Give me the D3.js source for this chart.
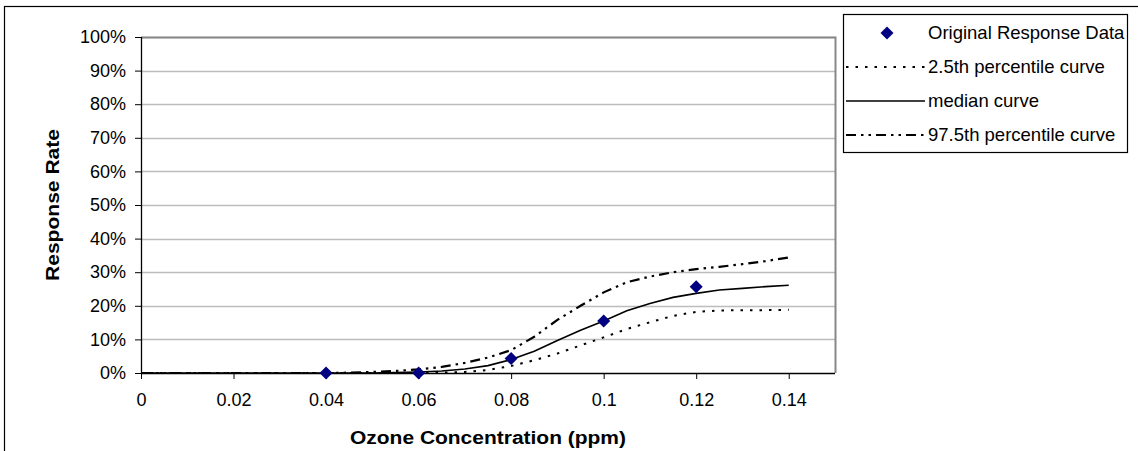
<!DOCTYPE html>
<html><head><meta charset="utf-8">
<script src="https://cdn.jsdelivr.net/npm/d3@7"></script>
<style>body{margin:0;background:#fff;} svg{display:block;} text{font-family:"Liberation Sans",Arial,sans-serif;fill:#000;}</style>
</head><body>
<svg id="chart" width="1138" height="451"></svg>
<script>
const xTicks = [0, 0.02, 0.04, 0.06, 0.08, 0.1, 0.12, 0.14];
const xTickLabels = ["0", "0.02", "0.04", "0.06", "0.08", "0.1", "0.12", "0.14"];
const yTicks = [0, 0.1, 0.2, 0.3, 0.4, 0.5, 0.6, 0.7, 0.8, 0.9, 1.0];
const yTickLabels = ["0%", "10%", "20%", "30%", "40%", "50%", "60%", "70%", "80%", "90%", "100%"];

const obsX = [0.04, 0.06, 0.08, 0.1, 0.12];
const obsY = [0.0, 0.0, 0.043, 0.155, 0.257];

const curveX = [0, 0.005, 0.01, 0.015, 0.02, 0.025, 0.03, 0.035, 0.04, 0.045, 0.05, 0.055, 0.06, 0.065, 0.07, 0.075, 0.08, 0.085, 0.09, 0.095, 0.1, 0.105, 0.11, 0.115, 0.12, 0.125, 0.13, 0.135, 0.14];
const lowerY = [0, 0, 0, 0, 0, 0, 0, 0, 0, 0, 0, 0, 0, 0.001, 0.003, 0.009, 0.021, 0.038, 0.058, 0.082, 0.106, 0.131, 0.151, 0.170, 0.182, 0.186, 0.187, 0.187, 0.188];
const medianY = [0, 0, 0, 0, 0, 0, 0, 0, 0, 0, 0, 0.001, 0.003, 0.006, 0.012, 0.022, 0.040, 0.065, 0.097, 0.127, 0.155, 0.185, 0.207, 0.225, 0.237, 0.247, 0.252, 0.257, 0.261];
const upperY = [0, 0, 0, 0, 0, 0, 0, 0, 0, 0.001, 0.003, 0.006, 0.011, 0.018, 0.030, 0.046, 0.068, 0.108, 0.158, 0.200, 0.240, 0.270, 0.287, 0.300, 0.309, 0.316, 0.324, 0.333, 0.344];

const legendLabels = ["Original Response Data", "2.5th percentile curve", "median curve", "97.5th percentile curve"];

const svg = d3.select("#chart");
const L = 141, R = 835, T = 37, B = 373;
const x = d3.scaleLinear().domain([0, 0.15]).range([L, R]);
const y = d3.scaleLinear().domain([0, 1]).range([B, T]);

// outer border
svg.append("rect").attr("x", 4.5).attr("y", 6.5).attr("width", 1200).attr("height", 600)
  .attr("fill", "none").attr("stroke", "#000").attr("stroke-width", 1.2);

// gridlines
svg.append("g").selectAll("line").data(yTicks.slice(1)).join("line")
  .attr("x1", L).attr("x2", R).attr("y1", d => Math.round(y(d)) + 0.5).attr("y2", d => Math.round(y(d)) + 0.5)
  .attr("stroke", "#bcbcbc").attr("stroke-width", 1.5);

// plot border top/right
svg.append("path").attr("d", `M${L},${T + 0.5}H${R + 0.5}V${B}`)
  .attr("fill", "none").attr("stroke", "#888").attr("stroke-width", 2);

// axes
const yAxis = d3.axisLeft(y).tickValues(yTicks).tickFormat((d, i) => yTickLabels[i]).tickSize(6).tickPadding(9);
const gy = svg.append("g").attr("transform", `translate(${L},0)`).call(yAxis);
const xAxis = d3.axisBottom(x).tickValues(xTicks).tickFormat((d, i) => xTickLabels[i]).tickSize(6).tickPadding(14);
const gx = svg.append("g").attr("transform", `translate(0,${B})`).call(xAxis);
[gx, gy].forEach(g => {
  g.select(".domain").attr("stroke", "#000").attr("stroke-width", 1.3);
  g.selectAll(".tick line").attr("stroke", "#000");
  g.selectAll(".tick text").attr("font-size", 18).attr("font-family", '"Liberation Sans",Arial,sans-serif').attr("fill", "#000");
});
gx.select(".domain").attr("d", `M${L},0.5H${R}`);
gy.select(".domain").attr("d", `M0.5,${T}V${B}`);

// curves
const line = d3.line().x(d => x(d[0])).y(d => y(d[1]));
const styles = [
  {data: lowerY, dash: "2.5,7", w: 2},
  {data: medianY, dash: null, w: 1.6},
  {data: upperY, dash: "10,5,2.5,5,2.5,5", w: 2.2}
];
styles.forEach(s => {
  svg.append("path").datum(curveX.map((v, i) => [v, s.data[i]])).attr("d", line)
    .attr("fill", "none").attr("stroke", "#000").attr("stroke-width", s.w)
    .attr("stroke-dasharray", s.dash);
});

// markers
const diamond = (cx, cy, r) => `M${cx},${cy - r}L${cx + r},${cy}L${cx},${cy + r}L${cx - r},${cy}Z`;
svg.append("g").selectAll("path").data(obsX.map((v, i) => [v, obsY[i]])).join("path")
  .attr("d", d => diamond(x(d[0]), y(d[1]), 6.5)).attr("fill", "#000080");

// axis titles
svg.append("text").attr("x", (L + R) / 2).attr("y", 444).attr("text-anchor", "middle")
  .attr("font-size", 18).attr("font-weight", "bold").attr("textLength", 276).attr("lengthAdjust", "spacingAndGlyphs")
  .text("Ozone Concentration (ppm)");
svg.append("text").attr("transform", `translate(59,${(T + B) / 2}) rotate(-90)`).attr("text-anchor", "middle")
  .attr("font-size", 18).attr("font-weight", "bold").attr("textLength", 152).attr("lengthAdjust", "spacingAndGlyphs")
  .text("Response Rate");

// legend
svg.append("rect").attr("x", 843.5).attr("y", 14.5).attr("width", 284).attr("height", 138)
  .attr("fill", "#fff").attr("stroke", "#000").attr("stroke-width", 1.2);
const rows = [33, 67, 101, 135];
const lg = svg.append("g");
lg.append("path").attr("d", diamond(887, rows[0], 6.5)).attr("fill", "#000080");
[1, 2, 3].forEach(i => {
  const s = styles[i - 1];
  lg.append("line").attr("x1", 846).attr("x2", 925).attr("y1", rows[i]).attr("y2", rows[i])
    .attr("stroke", "#000").attr("stroke-width", s.w).attr("stroke-dasharray", s.dash);
});
lg.selectAll("text").data(legendLabels).join("text")
  .attr("x", 928).attr("y", (d, i) => rows[i]).attr("dy", "0.35em").attr("font-size", 18.5)
  .text(d => d);
</script>
</body></html>
